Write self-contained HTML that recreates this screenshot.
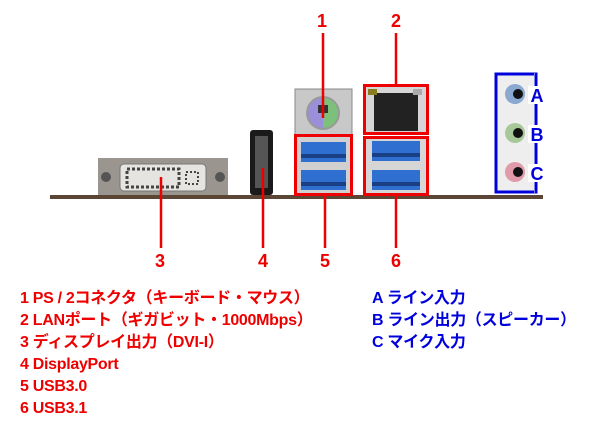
<!DOCTYPE html>
<html><head><meta charset="utf-8"><style>
html,body{margin:0;padding:0;background:#fff;width:600px;height:425px;overflow:hidden}
svg{display:block}
.t{font-family:"Liberation Sans","Noto Sans CJK JP",sans-serif;font-weight:bold}
</style></head><body>
<svg width="600" height="425" viewBox="0 0 600 425" xmlns="http://www.w3.org/2000/svg">
<rect x="50" y="195" width="493" height="4" fill="#5b4636"/>
<rect x="98" y="158" width="130" height="37" fill="#9a968f"/>
<rect x="120" y="164" width="86" height="27" rx="4" fill="#e6e4e0" stroke="#777"/>
<rect x="127" y="169" width="52" height="18" fill="none" stroke="#444" stroke-dasharray="3 2" stroke-width="3"/>
<rect x="186" y="172" width="12" height="12" fill="none" stroke="#444" stroke-dasharray="2 2" stroke-width="2"/>
<circle cx="106" cy="177" r="5" fill="#555"/><circle cx="220" cy="177" r="5" fill="#555"/>
<rect x="250" y="130" width="23" height="65" rx="3" fill="#1a1a1a"/>
<rect x="255" y="136" width="13" height="52" fill="#555"/>
<rect x="295" y="89" width="57" height="46" fill="#c8c8c8" stroke="#888"/>
<circle cx="323" cy="113" r="17" fill="#999"/>
<path d="M323 98 A15 15 0 0 0 323 128 Z" fill="#9a8fd8"/>
<path d="M323 98 A15 15 0 0 1 323 128 Z" fill="#7cc07c"/>
<rect x="318" y="105" width="10" height="8" fill="#333"/>
<rect x="295" y="135" width="57" height="60" fill="#d0d0d0"/>
<rect x="301" y="142" width="45" height="20" fill="#2f6fd0"/>
<rect x="301" y="170" width="45" height="20" fill="#2f6fd0"/>
<rect x="301" y="154" width="45" height="4" fill="#1b3f85"/>
<rect x="301" y="182" width="45" height="4" fill="#1b3f85"/>
<rect x="295.5" y="135.5" width="56" height="59" fill="none" stroke="#e00" stroke-width="3"/>
<rect x="363" y="85" width="66" height="49" fill="#d6d6d6"/>
<rect x="374" y="93" width="44" height="38" fill="#222"/>
<rect x="368" y="89" width="9" height="6" fill="#8a7a20"/>
<rect x="413" y="89" width="9" height="6" fill="#aaa"/>
<rect x="364.5" y="85.5" width="63" height="48" fill="none" stroke="#e00" stroke-width="3"/>
<rect x="363" y="137" width="66" height="58" fill="#d6d6d6"/>
<rect x="372" y="141" width="48" height="20" fill="#2f6fd0"/>
<rect x="372" y="170" width="48" height="20" fill="#2f6fd0"/>
<rect x="372" y="153" width="48" height="4" fill="#1b3f85"/>
<rect x="372" y="182" width="48" height="4" fill="#1b3f85"/>
<rect x="364.5" y="137.5" width="63" height="57" fill="none" stroke="#e00" stroke-width="3"/>
<rect x="495" y="73" width="42" height="120" fill="#eee"/>
<rect x="496" y="74" width="40" height="118" fill="none" stroke="#00d" stroke-width="3"/>
<circle cx="515" cy="94" r="10" fill="#8aa8d0"/><circle cx="518" cy="94" r="5" fill="#111"/>
<circle cx="515" cy="133" r="10" fill="#a8c89a"/><circle cx="518" cy="133" r="5" fill="#111"/>
<circle cx="515" cy="172" r="10" fill="#e09aaa"/><circle cx="518" cy="172" r="5" fill="#111"/>
<rect x="534" y="73" width="4" height="120" fill="#fff"/>
<line x1="536" y1="73" x2="536" y2="193" stroke="#00d" stroke-width="3"/>
<g class="t" fill="#00d" font-size="18" text-anchor="middle">
<rect x="528" y="86" width="16" height="18" fill="#fff"/><text x="537" y="102">A</text>
<rect x="528" y="125" width="16" height="18" fill="#fff"/><text x="537" y="141">B</text>
<rect x="528" y="164" width="16" height="18" fill="#fff"/><text x="537" y="180">C</text>
</g>
<g stroke="#e00" stroke-width="2.5">
<line x1="323" y1="33" x2="323" y2="118"/>
<line x1="396" y1="33" x2="396" y2="85"/>
<line x1="161" y1="177" x2="161" y2="248"/>
<line x1="263" y1="168" x2="263" y2="248"/>
<line x1="325" y1="195" x2="325" y2="248"/>
<line x1="396" y1="195" x2="396" y2="248"/>
</g>
<g class="t" fill="#e00" font-size="18" text-anchor="middle">
<text x="322" y="27">1</text><text x="396" y="27">2</text>
<text x="160" y="267">3</text><text x="263" y="267">4</text>
<text x="325" y="267">5</text><text x="396" y="267">6</text>
</g>
<g class="t" fill="#e00" font-size="16" letter-spacing="-0.3">
<text x="20" y="303">1 PS / 2コネクタ（キーボード・マウス）</text>
<text x="20" y="325">2 LANポート（ギガビット・1000Mbps）</text>
<text x="20" y="347">3 ディスプレイ出力（DVI-I）</text>
<text x="20" y="369">4 DisplayPort</text>
<text x="20" y="391">5 USB3.0</text>
<text x="20" y="413">6 USB3.1</text>
</g>
<g class="t" fill="#00d" font-size="16" letter-spacing="-0.3">
<text x="372" y="303">A ライン入力</text>
<text x="372" y="325">B ライン出力（スピーカー）</text>
<text x="372" y="347">C マイク入力</text>
</g>
</svg>
</body></html>
